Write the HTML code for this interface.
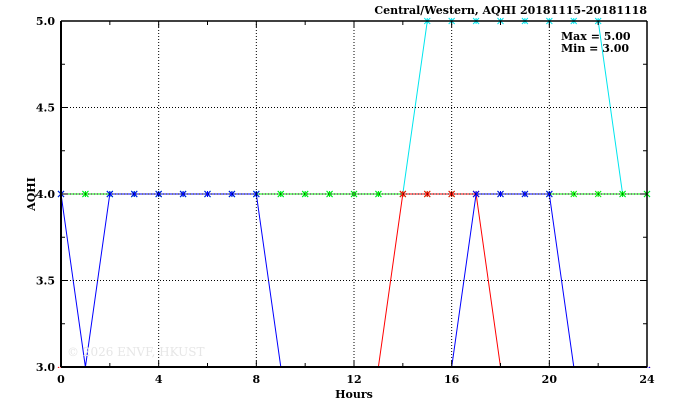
<!DOCTYPE html>
<html><head><meta charset="utf-8"><style>
html,body{margin:0;padding:0;background:#fff;width:674px;height:409px;overflow:hidden}
text{font-family:"DejaVu Serif","Liberation Serif",serif;font-weight:bold;font-size:11px;fill:#000}
</style></head><body>
<svg id="s" width="674" height="409" xmlns="http://www.w3.org/2000/svg"></svg>
<script>
const X=h=>61+h*586/24, Y=v=>367-(v-3)*173;
let o='';
const green=Array(25).fill(4);
const cyan=[];for(let h=0;h<=24;h++)cyan.push(h>=15&&h<=22?5:4);
const red=[];for(let h=0;h<=24;h++)red.push(h>=14&&h<=17?4:3);
const blue=[];for(let h=0;h<=24;h++)blue.push(h==1||(h>=9&&h<=16)||h>=21?3:4);
function ser(d,c){let p=d.map((v,h)=>`${X(h).toFixed(1)},${Y(v).toFixed(1)}`).join(' ');
o+=`<polyline points="${p}" fill="none" stroke="${c}" stroke-width="1"/>`;
d.forEach((v,h)=>{let x=X(h),y=Y(v);if(v==3)y+=3;o+=`<path d="M${x-3},${y-3}L${x+3},${y+3}M${x+3},${y-3}L${x-3},${y+3}M${x},${y-3}L${x},${y+3}" stroke="${c}" stroke-width="1"/>`});}
ser(cyan,'#00e5ee');ser(green,'#00ee00');ser(red,'#ff0000');ser(blue,'#0000ff');
// grid on top
for(let h=4;h<24;h+=4)o+=`<line x1="${X(h)}" y1="21" x2="${X(h)}" y2="367" stroke="#000" stroke-width="1" stroke-dasharray="1,2"/>`;
for(let v=3.5;v<5;v+=0.5)o+=`<line x1="61" y1="${Y(v)}" x2="647" y2="${Y(v)}" stroke="#000" stroke-width="1" stroke-dasharray="1,2"/>`;
for(let h=0;h<=24;h+=2){let l=h%4?4:6;o+=`<line x1="${X(h)}" y1="367" x2="${X(h)}" y2="${367-l}" stroke="#000"/><line x1="${X(h)}" y1="21" x2="${X(h)}" y2="${21+l}" stroke="#000"/>`;}
for(let v=3;v<=5;v+=0.25){let l=(v*4)%2?4:6;o+=`<line x1="61" y1="${Y(v)}" x2="${61+l}" y2="${Y(v)}" stroke="#000"/><line x1="647" y1="${Y(v)}" x2="${647-l}" y2="${Y(v)}" stroke="#000"/>`;}
o+=`<rect x="0" y="368" width="674" height="41" fill="#fff"/>`;
o+=`<line x1="61" y1="367" x2="647" y2="367" stroke="#000" stroke-width="2"/><line x1="61" y1="21" x2="647" y2="21" stroke="#000" stroke-width="1.5"/><line x1="61" y1="21" x2="61" y2="367" stroke="#000" stroke-width="2"/><line x1="647" y1="21" x2="647" y2="367" stroke="#000" stroke-width="1.5"/>`;
for(let h=0;h<=24;h+=4)o+=`<text x="${X(h)}" y="383" text-anchor="middle">${h}</text>`;
for(let v=3;v<=5;v+=0.5)o+=`<text x="55" y="${Y(v)+4}" text-anchor="end">${v.toFixed(1)}</text>`;
o+=`<text x="354" y="398" text-anchor="middle">Hours</text>`;
o+=`<text transform="translate(35,194) rotate(-90)" text-anchor="middle">AQHI</text>`;
o+=`<text x="647" y="14" text-anchor="end">Central/Western, AQHI 20181115-20181118</text>`;
o+=`<text x="561" y="40">Max = 5.00</text><text x="561" y="52">Min = 3.00</text>`;
o+=`<text x="67" y="356" style="font-weight:normal;font-size:12px;fill:#e6e6e6">© 2026  ENVF, HKUST</text>`;
document.getElementById('s').innerHTML=o;
</script>
</body></html>
